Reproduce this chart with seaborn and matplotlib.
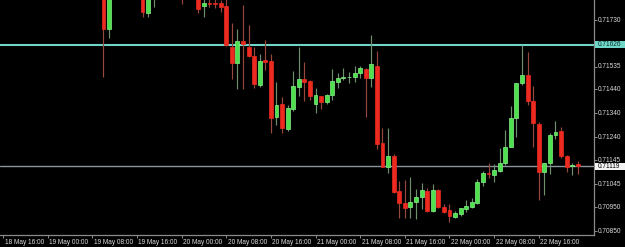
import numpy as np
import pandas as pd
import matplotlib
matplotlib.use("Agg")
import matplotlib.pyplot as plt
import matplotlib.transforms as mtransforms
from matplotlib.patches import Rectangle
import seaborn as sns

# ---------------- data (hourly bars, offset in hours from 18 May 16:00) ----------------
start_time = "2015-05-18 16:00"
bar_hour = [18, 19, 25, 26, 27, 32, 35, 36, 37, 38, 39, 40, 41, 42, 43, 44, 45, 46, 47, 48,
            49, 50, 51, 52, 53, 54, 55, 56, 57, 58, 59, 60, 61, 62, 63, 64, 65, 66, 67, 68,
            69, 70, 71, 72, 73, 74, 75, 76, 77, 78, 79, 80, 81, 82, 83, 84, 85, 86, 87, 88,
            89, 90, 91, 92, 93, 94, 95, 96, 97, 98, 99, 100, 101, 102, 103]
open_ = [0.71855, 0.71692, 0.71840, 0.71759, 0.71825, 0.71835, 0.71825, 0.71788, 0.71801, 0.71801,
         0.71801, 0.71788, 0.71617, 0.71551, 0.71642, 0.71617, 0.71580, 0.71459, 0.71563, 0.71559,
         0.71326, 0.71380, 0.71275, 0.71359, 0.71451, 0.71484, 0.71476, 0.71380, 0.71413, 0.71388,
         0.71417, 0.71471, 0.71488, 0.71492, 0.71492, 0.71509, 0.71526, 0.71488, 0.71538, 0.71217,
         0.71117, 0.71163, 0.71017, 0.70967, 0.70950, 0.70971, 0.70992, 0.71017, 0.70934, 0.71021,
         0.70950, 0.70938, 0.70909, 0.70921, 0.70942, 0.70950, 0.70967, 0.71054, 0.71092, 0.71084,
         0.71100, 0.71134, 0.71200, 0.71321, 0.71467, 0.71501, 0.71392, 0.71296, 0.71096, 0.71134,
         0.71250, 0.71267, 0.71163, 0.71121, 0.71130]
high_ = [0.71876, 0.71860, 0.71860, 0.71845, 0.71840, 0.71845, 0.71840, 0.71822, 0.71822, 0.71818,
         0.71815, 0.71816, 0.71717, 0.71692, 0.71793, 0.71709, 0.71617, 0.71588, 0.71647, 0.71588,
         0.71471, 0.71409, 0.71376, 0.71517, 0.71617, 0.71555, 0.71480, 0.71446, 0.71413, 0.71421,
         0.71526, 0.71509, 0.71530, 0.71513, 0.71538, 0.71538, 0.71530, 0.71667, 0.71601, 0.71280,
         0.71280, 0.71171, 0.71059, 0.71063, 0.71075, 0.71025, 0.71050, 0.71030, 0.71046, 0.71025,
         0.70963, 0.70963, 0.70934, 0.70946, 0.70979, 0.70988, 0.71067, 0.71100, 0.71134, 0.71130,
         0.71196, 0.71271, 0.71371, 0.71467, 0.71626, 0.71597, 0.71455, 0.71305, 0.71134, 0.71259,
         0.71309, 0.71284, 0.71167, 0.71134, 0.71142]
low_ = [0.71492, 0.71655, 0.71743, 0.71743, 0.71784, 0.71797, 0.71759, 0.71743, 0.71784, 0.71780,
        0.71763, 0.71622, 0.71484, 0.71442, 0.71442, 0.71576, 0.71446, 0.71451, 0.71522, 0.71259,
        0.71292, 0.71259, 0.71267, 0.71351, 0.71413, 0.71392, 0.71396, 0.71342, 0.71359, 0.71380,
        0.71396, 0.71446, 0.71480, 0.71467, 0.71471, 0.71488, 0.71326, 0.71451, 0.71192, 0.71117,
        0.71092, 0.71009, 0.70904, 0.70904, 0.70904, 0.70900, 0.70942, 0.70929, 0.70929, 0.70946,
        0.70925, 0.70888, 0.70904, 0.70913, 0.70929, 0.70946, 0.70963, 0.71038, 0.71071, 0.71054,
        0.71096, 0.71125, 0.71200, 0.71242, 0.71459, 0.71376, 0.71200, 0.70979, 0.71000, 0.71088,
        0.71234, 0.71155, 0.71096, 0.71084, 0.71088]
close_ = [0.71692, 0.71847, 0.71763, 0.71830, 0.71830, 0.71825, 0.71776, 0.71801, 0.71797, 0.71797,
          0.71784, 0.71626, 0.71551, 0.71642, 0.71630, 0.71580, 0.71463, 0.71559, 0.71555, 0.71321,
          0.71376, 0.71280, 0.71363, 0.71455, 0.71484, 0.71471, 0.71413, 0.71417, 0.71388, 0.71417,
          0.71476, 0.71488, 0.71492, 0.71492, 0.71509, 0.71530, 0.71488, 0.71547, 0.71213, 0.71117,
          0.71163, 0.71013, 0.70967, 0.70946, 0.70971, 0.70992, 0.71021, 0.70934, 0.71021, 0.70950,
          0.70929, 0.70913, 0.70925, 0.70946, 0.70954, 0.70971, 0.71054, 0.71092, 0.71088, 0.71105,
          0.71134, 0.71200, 0.71321, 0.71467, 0.71501, 0.71392, 0.71300, 0.71096, 0.71134, 0.71250,
          0.71263, 0.71163, 0.71117, 0.71125, 0.71119]

resistance_level = 0.71626
current_price = 0.71119
y_ticks = [0.71730, 0.71535, 0.71440, 0.71340, 0.71240, 0.71145, 0.71045, 0.70950, 0.70850]
x_tick_labels = ["18 May 16:00", "19 May 00:00", "19 May 08:00", "19 May 16:00", "20 May 00:00",
                 "20 May 08:00", "20 May 16:00", "21 May 00:00", "21 May 08:00", "21 May 16:00",
                 "22 May 00:00", "22 May 08:00", "22 May 16:00"]

df = pd.DataFrame({"hour": bar_hour, "open": open_, "high": high_, "low": low_, "close": close_})
df["bull"] = df["close"] >= df["open"]

t0 = pd.Timestamp(start_time)
tick_pos = [(pd.to_datetime("2015 " + s, format="%Y %d %b %H:%M") - t0) / pd.Timedelta(hours=1)
            for s in x_tick_labels]

# ---------------- style ----------------
sns.set_theme(style="dark", rc={"axes.facecolor": "black", "figure.facecolor": "black"})
plt.rcParams["font.family"] = ["Liberation Sans", "DejaVu Sans"]

W, H = 625, 247
fig = plt.figure(figsize=(W / 100, H / 100), dpi=100, facecolor="black")
ax = fig.add_axes([0, 1 - 235 / H, 594 / W, 235 / H])
ax.set_facecolor("black")

BULL = "#4fe04f"
BULL_EDGE = "#86f286"
BEAR = "#ec2a1f"
BULL_WICK = "#6e8f6e"
BEAR_WICK = "#97483c"
AXIS = "#8a8a8a"
FS = 4.7

# level lines
ax.axhline(resistance_level, color="#6fd6c8", lw=1.5, zorder=1)
ax.axhline(current_price, color="#8a949c", lw=1.0, zorder=1)

# wicks
for bull, wc in [(True, BULL_WICK), (False, BEAR_WICK)]:
    d = df[df["bull"] == bull]
    ax.vlines(d["hour"], d["low"], d["high"], color=wc, lw=0.85, zorder=2)

# bodies
for bull, fc, ec in [(True, BULL, BULL_EDGE), (False, BEAR, BEAR)]:
    d = df[df["bull"] == bull]
    ax.bar(d["hour"], d["close"] - d["open"], bottom=d["open"], width=0.7,
           color=fc, edgecolor=ec, linewidth=0.5, zorder=3)

# axes limits
ymin, ymax = 0.70833, 0.71813
ax.set_xlim(-0.54, 105.9)
ax.set_ylim(ymin, ymax)

# spines
for s in ["left", "top"]:
    ax.spines[s].set_visible(False)
for s in ["right", "bottom"]:
    ax.spines[s].set_visible(True)
    ax.spines[s].set_color(AXIS)
    ax.spines[s].set_linewidth(0.9)
ax.grid(False)

# y ticks on right
ax.yaxis.tick_right()
ax.set_yticks(y_ticks)
ax.set_yticklabels([f"{v:.5f}" for v in y_ticks])
ax.tick_params(axis="y", which="both", direction="out", length=2.2, width=0.7, color=AXIS,
               labelcolor="#dcdcdc", labelsize=FS, pad=0.8, right=True, left=False)
ylab_off = mtransforms.ScaledTranslation(0, 0.8 / 100, fig.dpi_scale_trans)
for lab in ax.get_yticklabels():
    lab.set_transform(lab.get_transform() + ylab_off)

# x ticks
ax.set_xticks(tick_pos)
ax.set_xticklabels(x_tick_labels)
ax.tick_params(axis="x", which="both", direction="out", length=2.2, width=0.7, color=AXIS,
               labelcolor="#dcdcdc", labelsize=FS, pad=0.8, bottom=True)
offset = mtransforms.ScaledTranslation(1.5 / 100, 0, fig.dpi_scale_trans)
for lab in ax.get_xticklabels():
    lab.set_ha("left")
    lab.set_transform(lab.get_transform() + offset)

# price label boxes on the right axis
blend = mtransforms.blended_transform_factory(fig.transFigure, ax.transData)
box_h = 7 / (235 / (ymax - ymin))
for level, bg, fg in [(resistance_level, "#6fd6c8", "#0a2a2a"), (current_price, "#f4f4f4", "#000000")]:
    ax.add_patch(Rectangle((595 / W, level - box_h / 2), 30 / W, box_h, transform=blend,
                           facecolor=bg, edgecolor="none", clip_on=False, zorder=5))
    ax.text(598 / W, level, f"{level:.5f}", transform=blend, color=fg, fontsize=FS,
            va="center", ha="left", zorder=6, clip_on=False)

fig.savefig("out.png", dpi=100, facecolor="black")
